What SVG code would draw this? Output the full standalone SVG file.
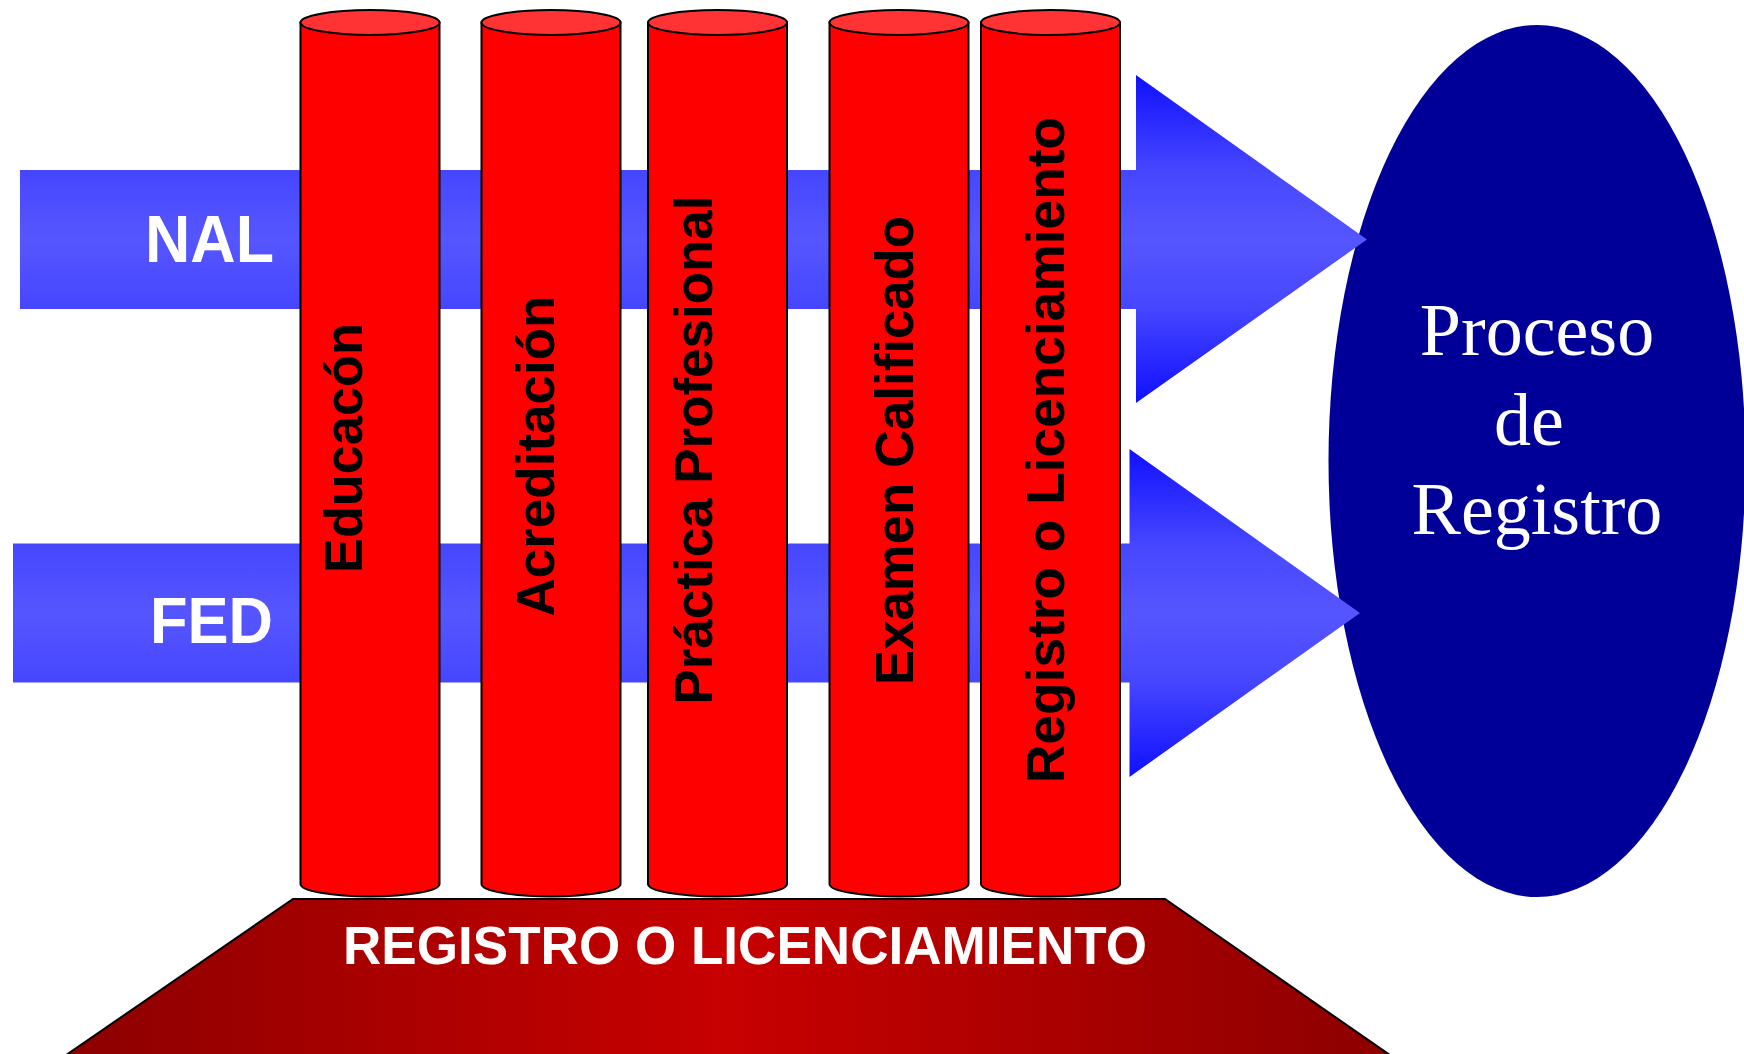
<svg xmlns="http://www.w3.org/2000/svg" width="1744" height="1054" viewBox="0 0 1744 1054">
<defs>
<linearGradient id="gNal" gradientUnits="userSpaceOnUse" x1="0" y1="75" x2="0" y2="403">
<stop offset="0" stop-color="#1010FF"/><stop offset="0.29" stop-color="#4646FF"/><stop offset="0.5" stop-color="#5656FF"/><stop offset="0.71" stop-color="#4646FF"/><stop offset="1" stop-color="#1010FF"/>
</linearGradient>
<linearGradient id="gFed" gradientUnits="userSpaceOnUse" x1="0" y1="449" x2="0" y2="777">
<stop offset="0" stop-color="#1010FF"/><stop offset="0.29" stop-color="#4646FF"/><stop offset="0.5" stop-color="#5656FF"/><stop offset="0.71" stop-color="#4646FF"/><stop offset="1" stop-color="#1010FF"/>
</linearGradient>
<linearGradient id="gBase" x1="0" y1="0" x2="1" y2="0">
<stop offset="0" stop-color="#8C0000"/><stop offset="0.5" stop-color="#C80000"/><stop offset="1" stop-color="#8C0000"/>
</linearGradient>
</defs>
<style>
.body{fill:#FF0000;stroke:#000;stroke-width:2}
.top{fill:#FF3333;stroke:#000;stroke-width:2}
.vt{font-family:"Liberation Sans",Arial,sans-serif;font-weight:bold;font-size:54px;fill:#000;text-anchor:middle}
.wl{font-family:"Liberation Sans",Arial,sans-serif;font-weight:bold;fill:#fff}
.ser{font-family:"Liberation Serif","Times New Roman",serif;font-size:74px;fill:#fff;text-anchor:middle}
</style>
<rect width="1744" height="1054" fill="#fff"/>

<g id="proceso-registro">
<ellipse cx="1537" cy="461" rx="208.5" ry="436" fill="#000099"/>
<text class="ser" x="1537" y="355">Proceso</text>
<text class="ser" x="1529" y="445">de</text>
<text class="ser" x="1537" y="534">Registro</text>
</g>

<g id="connectors">
<g id="nal">
<polygon points="20,170 1136,170 1136,75 1367,239.5 1136,403 1136,309 20,309" fill="url(#gNal)"/>
<text class="wl" x="145" y="261.7" font-size="67" textLength="129" lengthAdjust="spacingAndGlyphs">NAL</text>
</g>
<g id="fed">
<polygon points="13,543.5 1129.5,543.5 1129.5,449 1360,613 1129.5,777 1129.5,682.5 13,682.5" fill="url(#gFed)"/>
<text class="wl" x="150" y="642.7" font-size="64" textLength="123" lengthAdjust="spacingAndGlyphs">FED</text>
</g>
</g>

<g id="cyl-educacion">
<path class="body" d="M300.5,22.5 L300.5,884 A69.5,12.5 0 0 0 439.5,884 L439.5,22.5 Z"/>
<ellipse class="top" cx="370" cy="22.5" rx="69.5" ry="12.5"/>
<text class="vt" transform="translate(361.7,448) rotate(-90)" textLength="250" lengthAdjust="spacingAndGlyphs">Educacón</text>
</g>
<g id="cyl-acreditacion">
<path class="body" d="M481.5,22.5 L481.5,884 A69.5,12.5 0 0 0 620.5,884 L620.5,22.5 Z"/>
<ellipse class="top" cx="551" cy="22.5" rx="69.5" ry="12.5"/>
<text class="vt" transform="translate(554,456) rotate(-90)" textLength="321" lengthAdjust="spacingAndGlyphs">Acreditación</text>
</g>
<g id="cyl-practica">
<path class="body" d="M648,22.5 L648,884 A69.5,12.5 0 0 0 787,884 L787,22.5 Z"/>
<ellipse class="top" cx="717.5" cy="22.5" rx="69.5" ry="12.5"/>
<text class="vt" transform="translate(712.3,450) rotate(-90)" textLength="509" lengthAdjust="spacingAndGlyphs">Práctica Profesional</text>
</g>
<g id="cyl-examen">
<path class="body" d="M829.5,22.5 L829.5,884 A69.5,12.5 0 0 0 968.5,884 L968.5,22.5 Z"/>
<ellipse class="top" cx="899" cy="22.5" rx="69.5" ry="12.5"/>
<text class="vt" transform="translate(912.7,450.5) rotate(-90)" textLength="469" lengthAdjust="spacingAndGlyphs">Examen Calificado</text>
</g>
<g id="cyl-registro">
<path class="body" d="M981,22.5 L981,884 A69.5,12.5 0 0 0 1120,884 L1120,22.5 Z"/>
<ellipse class="top" cx="1050.5" cy="22.5" rx="69.5" ry="12.5"/>
<text class="vt" transform="translate(1064,450) rotate(-90)" textLength="666" lengthAdjust="spacingAndGlyphs">Registro o Licenciamiento</text>
</g>

<g id="base">
<polygon points="293,899 1165,899 1400,1062 56,1062" fill="url(#gBase)" stroke="#000" stroke-width="2"/>
<text class="wl" x="343" y="964" font-size="54.5" textLength="804" lengthAdjust="spacingAndGlyphs">REGISTRO O LICENCIAMIENTO</text>
</g>
</svg>
